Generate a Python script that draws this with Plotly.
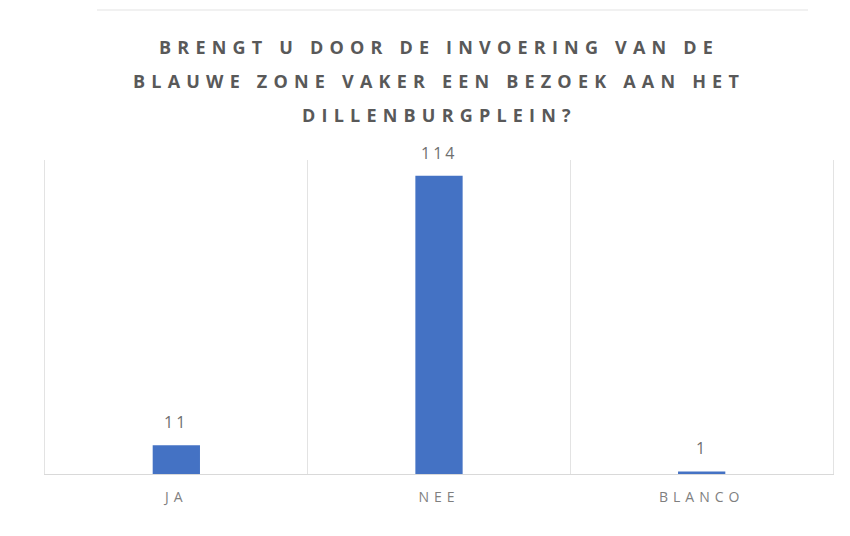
import plotly.graph_objects as go

categories = ["JA", "NEE", "BLANCO"]
values = [11, 114, 1]
title_lines = [
    "BRENGT U DOOR DE INVOERING VAN DE",
    "BLAUWE ZONE VAKER EEN BEZOEK AAN HET",
    "DILLENBURGPLEIN?",
]

# page body has an 8px default margin; figure is placed at (8, 8)
OFF = 8
W, H = 850 - OFF, 536 - OFF
M_L, M_R, M_T, M_B = 45 - OFF, 17, 160 - OFF, 62
plot_h = H - M_T - M_B
plot_w = W - M_L - M_R

def ypaper(py):
    return (536 - M_B - py) / plot_h

def xpaper(px):
    return (px - 45) / plot_w

BAR = "#4472C4"
TXT = "#595959"
GRID = "#e3e3e3"

fig = go.Figure(
    go.Bar(
        x=categories,
        y=values,
        marker=dict(color=BAR, line=dict(width=0)),
        width=0.18,
        hoverinfo="x+y",
    )
)

annotations = []
for line, py in zip(title_lines, [47, 81, 115]):
    annotations.append(dict(
        text=f"<span style='letter-spacing:6.2px'>{line}</span>",
        x=0.5, xref="paper", y=ypaper(py), yref="paper",
        xanchor="center", yanchor="middle", showarrow=False,
        font=dict(family="Open Sans", size=18, color=TXT, weight="bold"),
    ))
for c, v in zip(categories, values):
    annotations.append(dict(
        text=f"<span style='letter-spacing:3px'>{v}</span>",
        x=c, y=v, xref="x", yref="y",
        xanchor="center", yanchor="middle", yshift=23, showarrow=False,
        font=dict(family="Open Sans", size=16, color="#6f6f6f"),
    ))

fig.update_layout(
    width=W, height=H,
    margin=dict(l=M_L, r=M_R, t=M_T, b=M_B, pad=0),
    paper_bgcolor="white", plot_bgcolor="white",
    showlegend=False,
    annotations=annotations,
    shapes=[dict(type="line", xref="paper", yref="paper",
                 x0=xpaper(97), x1=xpaper(808),
                 y0=ypaper(10), y1=ypaper(10),
                 line=dict(color="#ececec", width=1.5))],
    xaxis=dict(
        type="category",
        range=[-0.5, 2.5],
        tickson="boundaries",
        showgrid=True, gridcolor=GRID, gridwidth=1,
        ticks="", showline=True, linecolor="#d9d9d9", linewidth=1,
        tickmode="array", tickvals=categories,
        ticktext=[f"<span style='letter-spacing:5px'>{c}</span>" for c in categories],
        tickfont=dict(family="Open Sans", size=14, color="#7f7f7f"),
        ticklabelstandoff=10,
        zeroline=False,
    ),
    yaxis=dict(
        range=[0, 120], showgrid=False, showticklabels=False,
        zeroline=False, showline=True, mirror=True, linecolor=GRID, linewidth=1,
        ticks="",
    ),
)

fig.write_html("out.html")
